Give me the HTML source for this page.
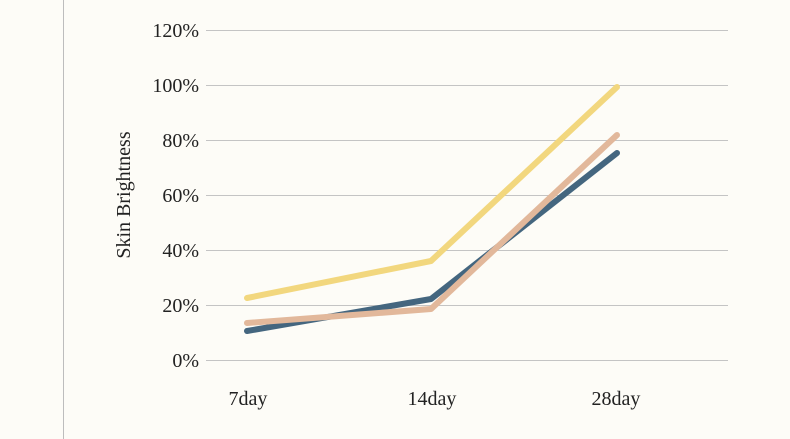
<!DOCTYPE html>
<html><head><meta charset="utf-8"><style>
html,body{margin:0;padding:0;background:#fdfcf7;}
svg{display:block;font-family:"Liberation Serif",serif;}
</style></head><body>
<svg width="790" height="439" viewBox="0 0 790 439">
<rect width="790" height="439" fill="#fdfcf7"/>
<line x1="63.5" y1="0" x2="63.5" y2="439" stroke="#bdbdbd" stroke-width="1"/>
<g stroke="#c4c4c4" stroke-width="1">
<line x1="206" y1="30.5" x2="728" y2="30.5"/>
<line x1="206" y1="85.5" x2="728" y2="85.5"/>
<line x1="206" y1="140.5" x2="728" y2="140.5"/>
<line x1="206" y1="195.5" x2="728" y2="195.5"/>
<line x1="206" y1="250.5" x2="728" y2="250.5"/>
<line x1="206" y1="305.5" x2="728" y2="305.5"/>
<line x1="206" y1="360.5" x2="728" y2="360.5"/>
</g>
<g font-size="20" fill="#222" text-anchor="end">
<text x="199" y="37">120%</text>
<text x="199" y="92">100%</text>
<text x="199" y="147">80%</text>
<text x="199" y="202">60%</text>
<text x="199" y="257">40%</text>
<text x="199" y="312">20%</text>
<text x="199" y="367">0%</text>
</g>
<g font-size="20" fill="#222" text-anchor="middle">
<text x="248" y="405">7day</text>
<text x="432" y="405">14day</text>
<text x="616" y="405">28day</text>
</g>
<text transform="translate(130,195) rotate(-90)" font-size="20" fill="#222" text-anchor="middle">Skin Brightness</text>
<g fill="none" stroke-width="6" stroke-linecap="round" stroke-linejoin="round">
<polyline points="247,298 431,261 617,87" stroke="#f2d77e"/>
<polyline points="247,331 431,299 617,153" stroke="#44667f"/>
<polyline points="247,323 431,309 617,135" stroke="#e2b89b"/>
</g>
</svg>
</body></html>
